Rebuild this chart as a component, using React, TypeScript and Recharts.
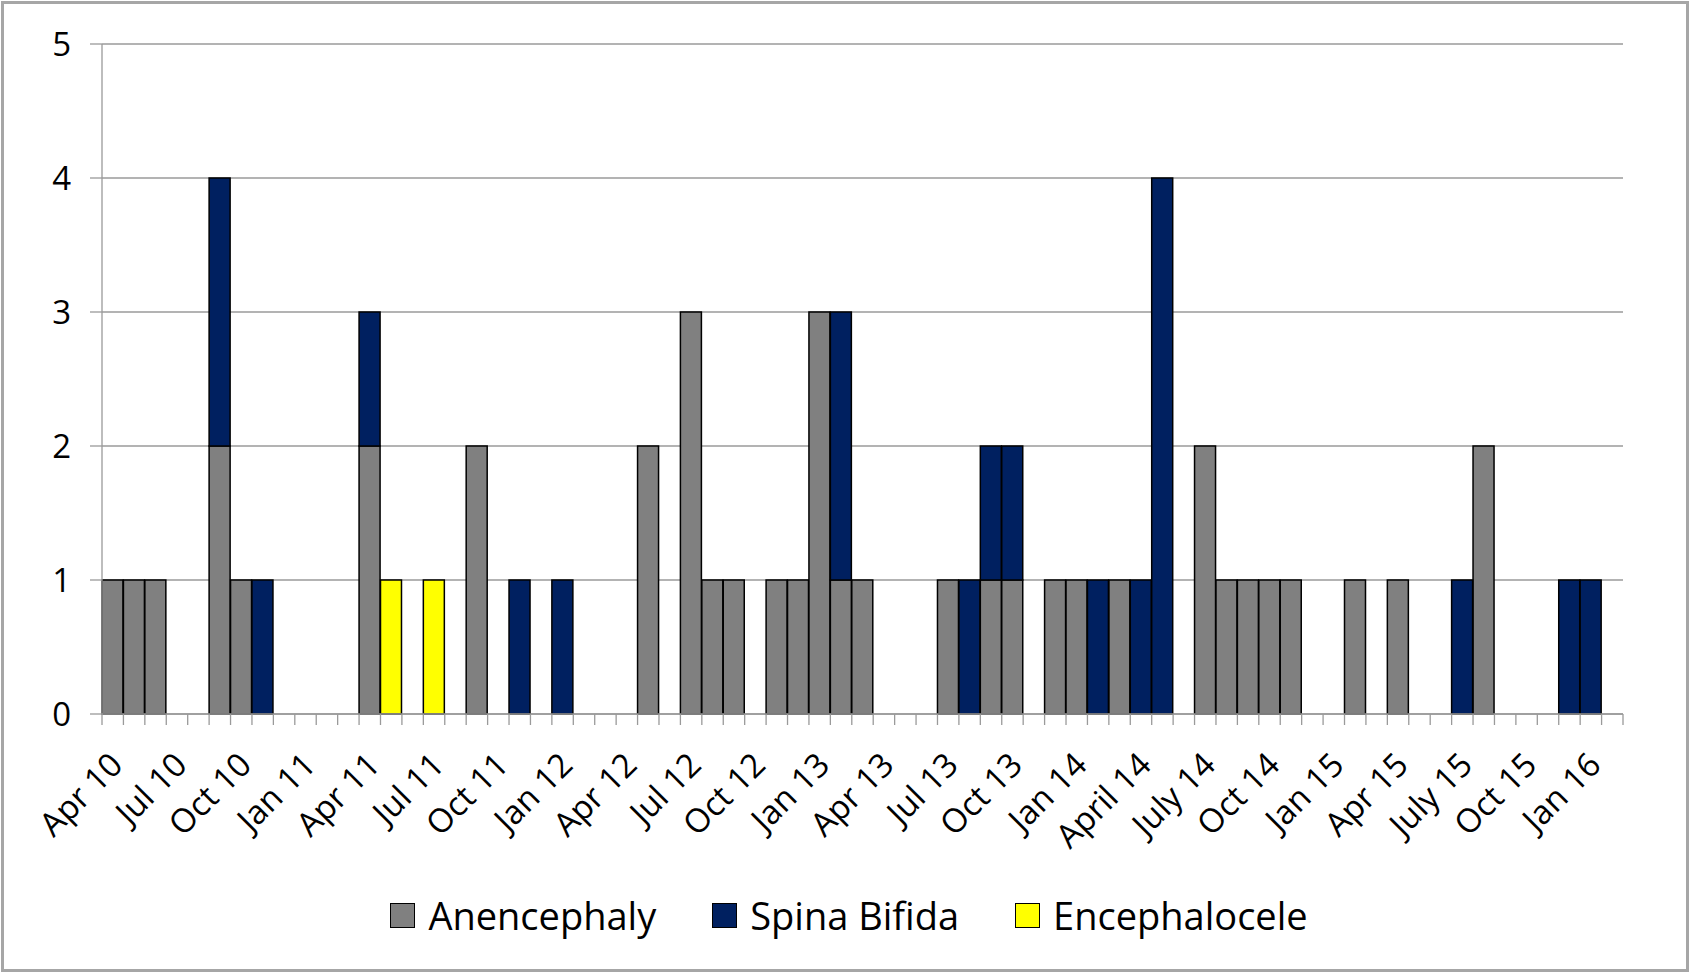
import React from 'react';
import { BarChart, Bar, XAxis, YAxis, CartesianGrid, Legend } from 'recharts';

// one category per month, Apr 2010 .. Feb 2016; only every third label is shown
const months = [
  'Apr 10', 'May 10', 'Jun 10', 'Jul 10', 'Aug 10', 'Sep 10', 'Oct 10', 'Nov 10', 'Dec 10',
  'Jan 11', 'Feb 11', 'Mar 11', 'Apr 11', 'May 11', 'Jun 11', 'Jul 11', 'Aug 11', 'Sep 11', 'Oct 11', 'Nov 11', 'Dec 11',
  'Jan 12', 'Feb 12', 'Mar 12', 'Apr 12', 'May 12', 'Jun 12', 'Jul 12', 'Aug 12', 'Sep 12', 'Oct 12', 'Nov 12', 'Dec 12',
  'Jan 13', 'Feb 13', 'Mar 13', 'Apr 13', 'May 13', 'Jun 13', 'Jul 13', 'Aug 13', 'Sep 13', 'Oct 13', 'Nov 13', 'Dec 13',
  'Jan 14', 'Feb 14', 'Mar 14', 'April 14', 'May 14', 'Jun 14', 'July 14', 'Aug 14', 'Sep 14', 'Oct 14', 'Nov 14', 'Dec 14',
  'Jan 15', 'Feb 15', 'Mar 15', 'Apr 15', 'May 15', 'Jun 15', 'July 15', 'Aug 15', 'Sep 15', 'Oct 15', 'Nov 15', 'Dec 15',
  'Jan 16', 'Feb 16',
];

const anencephaly = [
  1, 1, 1, 0, 0, 2, 1, 0, 0,
  0, 0, 0, 2, 0, 0, 0, 0, 2, 0, 0, 0,
  0, 0, 0, 0, 2, 0, 3, 1, 1, 0, 1, 1,
  3, 1, 1, 0, 0, 0, 1, 0, 1, 1, 0, 1,
  1, 0, 1, 0, 0, 0, 2, 1, 1, 1, 1, 0,
  0, 1, 0, 1, 0, 0, 0, 2, 0, 0, 0, 0,
  0, 0,
];

const spinaBifida = [
  0, 0, 0, 0, 0, 2, 0, 1, 0,
  0, 0, 0, 1, 0, 0, 0, 0, 0, 0, 1, 0,
  1, 0, 0, 0, 0, 0, 0, 0, 0, 0, 0, 0,
  0, 2, 0, 0, 0, 0, 0, 1, 1, 1, 0, 0,
  0, 1, 0, 1, 4, 0, 0, 0, 0, 0, 0, 0,
  0, 0, 0, 0, 0, 0, 1, 0, 0, 0, 0, 1,
  1, 0,
];

const encephalocele = [
  0, 0, 0, 0, 0, 0, 0, 0, 0,
  0, 0, 0, 0, 1, 0, 1, 0, 0, 0, 0, 0,
  0, 0, 0, 0, 0, 0, 0, 0, 0, 0, 0, 0,
  0, 0, 0, 0, 0, 0, 0, 0, 0, 0, 0, 0,
  0, 0, 0, 0, 0, 0, 0, 0, 0, 0, 0, 0,
  0, 0, 0, 0, 0, 0, 0, 0, 0, 0, 0, 0,
  0, 0,
];

const yTicks = [0, 1, 2, 3, 4, 5];

const series = [
  { key: 'anencephaly', name: 'Anencephaly', color: '#808080' },
  { key: 'spinaBifida', name: 'Spina Bifida', color: '#002060' },
  { key: 'encephalocele', name: 'Encephalocele', color: '#ffff00' },
];

const data = months.map((m, i) => ({
  month: m,
  anencephaly: anencephaly[i],
  spinaBifida: spinaBifida[i],
  encephalocele: encephalocele[i],
}));

const W = 1690;
const H = 973;
const margin = { top: 44, right: 67, bottom: 28, left: 0 };
const Y_AXIS_W = 102;
const LEGEND_H = 60;
const X_AXIS_H = H - 714 - margin.bottom - LEGEND_H;
const BAND = (W - margin.left - margin.right - Y_AXIS_W) / months.length;
const AXIS_GREY = '#9a9a9a';
const FONT = '"Open Sans", "Noto Sans", sans-serif';

// tick marks sit between months (Excel style), labels every 3rd month
function MonthTick(props: any) {
  const { x, y, payload } = props;
  const i = payload.index;
  const half = BAND / 2;
  const tx = x + 12;
  const ty = y + 53;
  return (
    <g>
      <line x1={x - half} x2={x - half} y1={y} y2={y + 11} stroke={AXIS_GREY} strokeWidth={1.3} />
      {i === months.length - 1 && (
        <line x1={x + half} x2={x + half} y1={y} y2={y + 11} stroke={AXIS_GREY} strokeWidth={1.3} />
      )}
      {i % 3 === 0 && (
        <text
          x={tx}
          y={ty}
          transform={`rotate(-45, ${tx}, ${ty})`}
          textAnchor="end"
          fontSize={33}
          fontFamily={FONT}
          fill="#000"
        >
          {payload.value}
        </text>
      )}
    </g>
  );
}

function LegendRow() {
  return (
    <div
      style={{
        display: 'flex',
        justifyContent: 'center',
        alignItems: 'center',
        height: LEGEND_H,
        fontFamily: FONT,
        fontSize: 38,
        color: '#000',
        paddingLeft: 8,
      }}
    >
      {series.map((s, i) => (
        <div
          key={s.key}
          style={{ display: 'flex', alignItems: 'center', marginLeft: i === 0 ? 0 : 56 }}
        >
          <span
            style={{
              width: 25,
              height: 25,
              background: s.color,
              border: '1.5px solid #000',
              boxSizing: 'border-box',
              marginRight: 13,
            }}
          />
          <span>{s.name}</span>
        </div>
      ))}
    </div>
  );
}

export default function App() {
  return (
    <div style={{ position: 'absolute', left: 0, top: 0, width: W, height: H, background: '#fff' }}>
      <BarChart
        width={W}
        height={H}
        data={data}
        margin={margin}
        barCategoryGap={0}
        barGap={0}
      >
        <CartesianGrid vertical={false} stroke={AXIS_GREY} strokeWidth={1.3} />
        <XAxis
          dataKey="month"
          interval={0}
          height={X_AXIS_H}
          tickSize={0}
          tickMargin={0}
          tickLine={false}
          axisLine={{ stroke: AXIS_GREY, strokeWidth: 1.3 }}
          tick={<MonthTick />}
        />
        <YAxis
          domain={[0, 5]}
          ticks={yTicks}
          interval={0}
          width={Y_AXIS_W}
          tickSize={12}
          tickMargin={19}
          axisLine={{ stroke: AXIS_GREY, strokeWidth: 1.3 }}
          tickLine={{ stroke: AXIS_GREY, strokeWidth: 1.3 }}
          tick={{ fontSize: 33, fill: '#000', fontFamily: FONT }}
        />
        {series.map((s) => (
          <Bar
            key={s.key}
            dataKey={s.key}
            name={s.name}
            stackId="a"
            fill={s.color}
            stroke="#000"
            strokeWidth={1.5}
            isAnimationActive={false}
          />
        ))}
        <Legend
          verticalAlign="bottom"
          height={LEGEND_H}
          wrapperStyle={{ left: 0, width: W, bottom: margin.bottom }}
          content={() => <LegendRow />}
        />
      </BarChart>
      <div
        style={{
          position: 'absolute',
          left: 1,
          top: 1,
          width: W - 2,
          height: H - 2,
          border: '3px solid #a6a6a6',
          boxSizing: 'border-box',
          pointerEvents: 'none',
        }}
      />
    </div>
  );
}
